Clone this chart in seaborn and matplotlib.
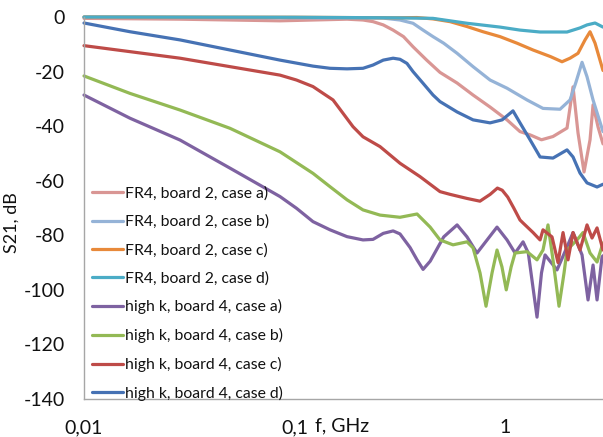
import numpy as np
import pandas as pd
import matplotlib
matplotlib.use("Agg")
import matplotlib.pyplot as plt
import seaborn as sns
from matplotlib.ticker import FixedLocator, FixedFormatter, NullLocator

# series labels and colours
labels = ["FR4, board 2, case a)", "FR4, board 2, case b)",
          "FR4, board 2, case c)", "FR4, board 2, case d)",
          "high k, board 4, case a)", "high k, board 4, case b)",
          "high k, board 4, case c)", "high k, board 4, case d)"]
colors = ["#D99694", "#95B3D7", "#E8893A", "#4BACC6",
          "#7E62A1", "#93B955", "#BE4B48", "#4672B4"]

# FR4 case a
f_fr4_a = [0.01, 0.0286, 0.0853, 0.1776, 0.2115, 0.236, 0.264, 0.294, 0.3295, 0.3655,
           0.4244, 0.491, 0.592, 0.705, 0.849, 1.022, 1.178, 1.315, 1.49, 1.69,
           1.97, 2.104, 2.222, 2.373, 2.534, 2.619, 2.766, 2.92]
s_fr4_a = [-0.5, -0.8, -1.4, -0.8, -1.1, -1.7, -2.9, -4.8, -7.2, -10.9,
           -15.8, -20.3, -24.2, -28.6, -33, -37.7, -42, -43.2, -45, -43.8,
           -40.7, -25.6, -42.5, -56.8, -45, -32.2, -40.3, -46.5]

# FR4 case b
f_fr4_b = [0.01, 0.1, 0.264, 0.317, 0.3655, 0.408, 0.455, 0.5112, 0.592, 0.705,
           0.849, 1.022, 1.272, 1.515, 1.825, 2.036, 2.17, 2.322, 2.452, 2.619, 2.92]
s_fr4_b = [-0.1, -0.3, -0.4, -1.1, -2.3, -4.8, -7.2, -9.6, -13.3, -18.2,
           -23.1, -26.1, -30.4, -33.5, -33.8, -30.4, -24, -16.6, -21.9, -30.4, -42]

# FR4 case c
f_fr4_c = [0.01, 0.1, 0.3, 0.382, 0.455, 0.548, 0.66, 0.786, 0.947, 1.14, 1.359,
           1.643, 1.865, 2.036, 2.222, 2.399, 2.534, 2.677, 2.92]
s_fr4_c = [0, -0.1, -0.3, -0.2, -0.7, -1.7, -3.5, -5.4, -7.2, -9.6, -12.1,
           -14.5, -16.4, -15.1, -13.3, -8.4, -5.4, -9.6, -19.6]

# FR4 case d
f_fr4_d = [0.01, 0.1, 0.3, 0.455, 0.66, 0.947, 1.178, 1.467, 1.97, 2.271, 2.452,
           2.677, 2.92]
s_fr4_d = [0, -0.1, -0.3, -0.5, -2.3, -3.7, -4.8, -5.5, -5.5, -4, -2.9, -2.2, -3.7]

# high k case a
f_hk_a = [0.01, 0.01654, 0.0286, 0.0494, 0.0853, 0.1022, 0.1224, 0.1475, 0.1776,
          0.2115, 0.236, 0.264, 0.294, 0.317, 0.354, 0.382, 0.408, 0.441, 0.5112,
          0.592, 0.66, 0.736, 0.822, 0.916, 1.022, 1.116, 1.218, 1.29, 1.419, 1.49,
          1.549, 1.766, 1.97, 2.104, 2.322, 2.479, 2.619, 2.736, 2.889, 2.92]
s_hk_a = [-28.6, -37.1, -45.1, -55.4, -65.8, -70.1, -75, -78, -80.5,
          -81.7, -81.5, -79.3, -78.4, -79.5, -84.5, -89, -92.5, -89.5, -80.6,
          -76.2, -80.6, -86.5, -81.7, -77, -81.7, -86.5, -82.4, -86.5, -110, -93.8,
          -87.2, -92.7, -84.3, -79, -87.2, -103.7, -90.9, -103.7, -87.9, -87.5]

# high k case b
f_hk_b = [0.01, 0.01654, 0.0286, 0.0494, 0.0853, 0.1224, 0.1475, 0.1776, 0.2115,
          0.2548, 0.317, 0.382, 0.4408, 0.491, 0.5662, 0.66, 0.7047, 0.7608,
          0.8123, 0.8675, 0.9162, 0.967, 1.0135, 1.069, 1.116, 1.272, 1.419,
          1.515, 1.6, 1.69, 1.805, 1.907, 1.97, 2.198, 2.347, 2.534, 2.736, 2.92]
s_hk_b = [-21.6, -28, -34.1, -40.8, -49.4, -57.3, -62.2, -67, -70.7,
          -72.6, -73.4, -72.2, -77, -81.7, -83.5, -82.4, -84.6, -93.8,
          -106, -93.8, -85.4, -91.6, -100, -91.6, -86.5, -86, -89,
          -85.4, -76.2, -89, -106, -93.8, -85.4, -81.7, -79, -86.5, -89.8, -82.8]

# high k case c
f_hk_c = [0.01, 0.01654, 0.0286, 0.0494, 0.0853, 0.1022, 0.1224, 0.1368, 0.1524,
          0.170, 0.1896, 0.2115, 0.2548, 0.317, 0.3946, 0.491, 0.548, 0.66, 0.76,
          0.85, 0.92, 0.97, 1.03, 1.1, 1.178, 1.218, 1.359, 1.467, 1.515, 1.672,
          1.785, 1.886, 1.992, 2.104, 2.271, 2.452, 2.59, 2.736, 2.92]
s_hk_c = [-10.5, -12.7, -15.1, -18.2, -21.3, -23.1, -25.5, -28, -30.4,
          -35.3, -40.2, -43.9, -47.5, -53.6, -58.5, -64, -65, -66.5, -67.5,
          -65, -62.7, -63.5, -66, -70, -74.4, -75.5, -79, -81.7, -78, -80.6,
          -90, -79, -89, -79, -85.4, -76.2, -81, -77.3, -85.4]

# high k case d
f_hk_d = [0.01, 0.01654, 0.0286, 0.0494, 0.0853, 0.1224, 0.1475, 0.1776, 0.2115,
          0.236, 0.264, 0.294, 0.317, 0.342, 0.3655, 0.408, 0.455, 0.491, 0.592,
          0.705, 0.849, 0.969, 1.091, 1.178, 1.315, 1.467, 1.69, 1.97, 2.104,
          2.271, 2.452, 2.736, 2.92]
s_hk_d = [-2.2, -5.4, -8.4, -12.1, -15.8, -18, -18.8, -19, -18.8,
          -17.6, -15.8, -15.1, -15.5, -17, -20, -24.3, -28.6, -31, -34.8,
          -37.7, -38.8, -37.7, -34.4, -38.8, -45, -51.3, -51.7, -48.7, -51.3,
          -57.2, -60.8, -62.3, -61.3]

freqs = [f_fr4_a, f_fr4_b, f_fr4_c, f_fr4_d, f_hk_a, f_hk_b, f_hk_c, f_hk_d]
s21s = [s_fr4_a, s_fr4_b, s_fr4_c, s_fr4_d, s_hk_a, s_hk_b, s_hk_c, s_hk_d]

df = pd.concat([pd.DataFrame({"f": f, "S21": s, "series": lab})
                for f, s, lab in zip(freqs, s21s, labels)], ignore_index=True)

sns.set_style("white")
plt.rcParams['font.family'] = ['Lato', 'DejaVu Sans']
plt.rcParams['axes.unicode_minus'] = False

fig = plt.figure(figsize=(6.03, 4.37), dpi=100)
ax = fig.add_axes([84 / 603, 38 / 437, 519 / 603, 382 / 437])

sns.lineplot(data=df, x="f", y="S21", hue="series", hue_order=labels,
             palette=colors, estimator=None, linewidth=2.3, ax=ax)
for ln in ax.get_lines():
    ln.set_clip_on(False)
    ln.set_solid_joinstyle("round")
    ln.set_solid_capstyle("round")

ax.set_xscale("log")
ax.set_xlim(0.01, 2.92)
ax.set_ylim(-140, 0)
ax.xaxis.set_major_locator(FixedLocator([0.01, 0.1, 1]))
ax.xaxis.set_major_formatter(FixedFormatter(["0,01", "0,1", "1"]))
ax.xaxis.set_minor_locator(NullLocator())
ax.set_yticks(np.arange(-140, 1, 20))

for side in ["top", "right"]:
    ax.spines[side].set_visible(False)
for side in ["left", "bottom"]:
    ax.spines[side].set_color("#A6A6A6")
    ax.spines[side].set_linewidth(1.0)
ax.tick_params(axis="y", direction="out", length=4.5, width=1, color="#A6A6A6",
               labelsize=14, pad=9, labelcolor="#111111")
ax.tick_params(axis="x", direction="out", length=4.5, width=1, color="#A6A6A6",
               labelsize=14, pad=10, labelcolor="#111111")

ax.set_xlabel("f, GHz", fontsize=14, color="#111111", va="center")
ax.xaxis.set_label_coords(0.497, -0.07)
ax.set_ylabel("S21, dB", fontsize=13, color="#111111", va="center")
ax.yaxis.set_label_coords(-0.139, 0.463)

leg = ax.legend(loc="lower left", bbox_to_anchor=(0.015, -0.005), frameon=False,
                fontsize=11.3, handlelength=2.0, handletextpad=0.1,
                labelspacing=0.88, borderpad=0, borderaxespad=0)
for t in leg.get_texts():
    t.set_color("#111111")

fig.savefig("out.png", dpi=100)
